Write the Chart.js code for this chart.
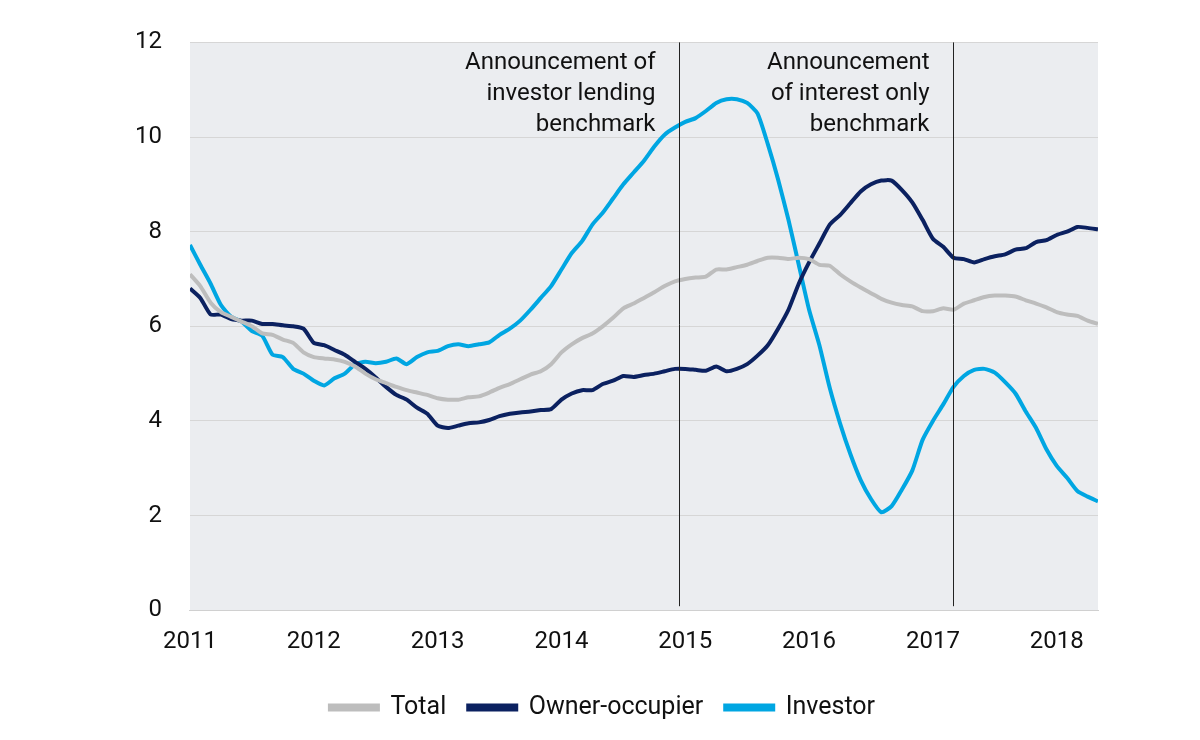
<!DOCTYPE html>
<html>
<head>
<meta charset="utf-8">
<script src="https://cdn.jsdelivr.net/npm/chart.js@4"></script>
<style>
  html, body { margin: 0; padding: 0; background: #fff; }
  #wrap { width: 1200px; height: 740px; }
</style>
</head>
<body>
<div id="wrap"><canvas id="chart" width="1200" height="740"></canvas></div>
<script>
"use strict";

// monthly, Jan 2011 to May 2018
const startYear = 2011;
const total = [7.1, 6.85, 6.5, 6.3, 6.2, 6.1, 6.0, 5.85, 5.82, 5.72, 5.65, 5.45,
  5.35, 5.32, 5.3, 5.25, 5.15, 5.0, 4.88, 4.8, 4.72, 4.65, 4.6, 4.55,
  4.48, 4.45, 4.45, 4.5, 4.52, 4.6, 4.7, 4.78, 4.88, 4.98, 5.05, 5.2,
  5.45, 5.62, 5.75, 5.85, 6.0, 6.18, 6.38, 6.48, 6.6, 6.72, 6.85, 6.95,
  7.0, 7.03, 7.05, 7.2, 7.2, 7.25, 7.3, 7.38, 7.45, 7.45, 7.42, 7.45,
  7.42, 7.3, 7.28, 7.1, 6.95, 6.82, 6.7, 6.58, 6.5, 6.45, 6.42, 6.32,
  6.32, 6.38, 6.35, 6.48, 6.55, 6.62, 6.65, 6.65, 6.63, 6.55, 6.48, 6.4,
  6.3, 6.25, 6.22, 6.12, 6.05];
const ownerOccupier = [6.8, 6.6, 6.25, 6.25, 6.15, 6.12, 6.12, 6.05, 6.05, 6.02, 6.0, 5.95,
  5.65, 5.6, 5.5, 5.4, 5.25, 5.1, 4.92, 4.72, 4.55, 4.45, 4.28, 4.15,
  3.9, 3.85, 3.9, 3.95, 3.97, 4.02, 4.1, 4.15, 4.18, 4.2, 4.23, 4.25,
  4.45, 4.58, 4.65, 4.65, 4.78, 4.85, 4.95, 4.93, 4.97, 5.0, 5.05, 5.1,
  5.1, 5.08, 5.06, 5.15, 5.05, 5.1, 5.2, 5.38, 5.6, 5.95, 6.35, 6.9,
  7.35, 7.75, 8.15, 8.35, 8.6, 8.85, 9.0, 9.08, 9.08, 8.88, 8.62, 8.25,
  7.85, 7.68, 7.45, 7.42, 7.35, 7.42, 7.48, 7.52, 7.62, 7.65, 7.78, 7.82,
  7.93, 8.0, 8.1, 8.08, 8.05];
const investor = [7.72, 7.3, 6.9, 6.45, 6.2, 6.1, 5.9, 5.8, 5.4, 5.35, 5.1, 5.0,
  4.85, 4.75, 4.9, 5.0, 5.2, 5.25, 5.22, 5.25, 5.32, 5.2, 5.35, 5.45,
  5.48, 5.58, 5.62, 5.58, 5.62, 5.66, 5.82, 5.95, 6.12, 6.35, 6.6, 6.85,
  7.2, 7.55, 7.8, 8.15, 8.4, 8.7, 9.0, 9.25, 9.5, 9.8, 10.05, 10.2,
  10.32, 10.4, 10.55, 10.72, 10.8, 10.8, 10.72, 10.5, 9.85, 9.1, 8.25, 7.3,
  6.35, 5.6, 4.7, 3.95, 3.3, 2.75, 2.35, 2.07, 2.2, 2.55, 2.95, 3.6,
  4.0, 4.35, 4.72, 4.95, 5.08, 5.1, 5.02, 4.82, 4.58, 4.2, 3.85, 3.4,
  3.05, 2.8, 2.52, 2.4, 2.3];
const yTicks = [0, 2, 4, 6, 8, 10, 12];
const events = [
  { x: 2014.95, text: ["Announcement of", "investor lending", "benchmark"] },
  { x: 2017.16, text: ["Announcement", "of interest only", "benchmark"] }
];

const FONT = "Roboto, 'DejaVu Sans', sans-serif";

function toPoints(arr) {
  return arr.map((v, i) => ({ x: startYear + i / 12, y: v }));
}

//Fondo gris y anotaciones
const decor = {
  id: "decor",
  beforeDraw(chart) {
    const { ctx, chartArea: a } = chart;
    ctx.save();
    ctx.fillStyle = "#ebedf0";
    ctx.fillRect(a.left, a.top, a.right - a.left, a.bottom - a.top);
    ctx.restore();
  },
  afterDatasetsDraw(chart) {
    const { ctx, chartArea: a } = chart;
    const xs = chart.scales.x;
    ctx.save();
    events.forEach(ev => {
      const px = Math.round(xs.getPixelForValue(ev.x)) + 0.5;
      ctx.strokeStyle = "#222";
      ctx.lineWidth = 1;
      ctx.beginPath();
      ctx.moveTo(px, a.top);
      ctx.lineTo(px, a.bottom - 4);
      ctx.stroke();
      ctx.fillStyle = "#111";
      ctx.font = "24px " + FONT;
      ctx.textAlign = "right";
      ctx.textBaseline = "middle";
      ev.text.forEach((t, i) => ctx.fillText(t, px - 24, a.top + 21 + i * 31));
    });
    ctx.restore();
  }
};

new Chart(document.getElementById("chart").getContext("2d"), {
  type: "line",
  data: {
    datasets: [
      { label: "Total", data: toPoints(total), borderColor: "#bdbdbd", backgroundColor: "#bdbdbd" },
      { label: "Owner-occupier", data: toPoints(ownerOccupier), borderColor: "#0b2160", backgroundColor: "#0b2160" },
      { label: "Investor", data: toPoints(investor), borderColor: "#00a6e2", backgroundColor: "#00a6e2" }
    ]
  },
  options: {
    responsive: false,
    animation: false,
    datasets: { line: { borderWidth: 4, pointRadius: 0, tension: 0.2 } },
    layout: { padding: { left: 107, right: 102, top: 41, bottom: 10 } },
    scales: {
      x: {
        type: "linear", min: startYear, max: startYear + (total.length - 1) / 12,
        afterBuildTicks: s => { s.ticks = [2011, 2012, 2013, 2014, 2015, 2016, 2017, 2018].map(v => ({ value: v })); },
        grid: { display: false, drawTicks: false },
        border: { color: "#d0d0d0", width: 1 },
        ticks: { color: "#111", font: { size: 24, family: FONT }, padding: 17, callback: v => String(v), maxRotation: 0 }
      },
      y: {
        min: 0, max: 12,
        afterBuildTicks: s => { s.ticks = yTicks.map(v => ({ value: v })); },
        grid: { color: "#d6d6d6", lineWidth: 1, drawTicks: false },
        border: { display: false },
        ticks: { color: "#111", font: { size: 24, family: FONT }, padding: 28 }
      }
    },
    plugins: {
      legend: {
        position: "bottom",
        labels: { color: "#111", font: { size: 25, family: FONT }, boxWidth: 48, boxHeight: 4, padding: 22 }
      },
      tooltip: { enabled: false }
    }
  },
  plugins: [decor]
});
</script>
</body>
</html>
